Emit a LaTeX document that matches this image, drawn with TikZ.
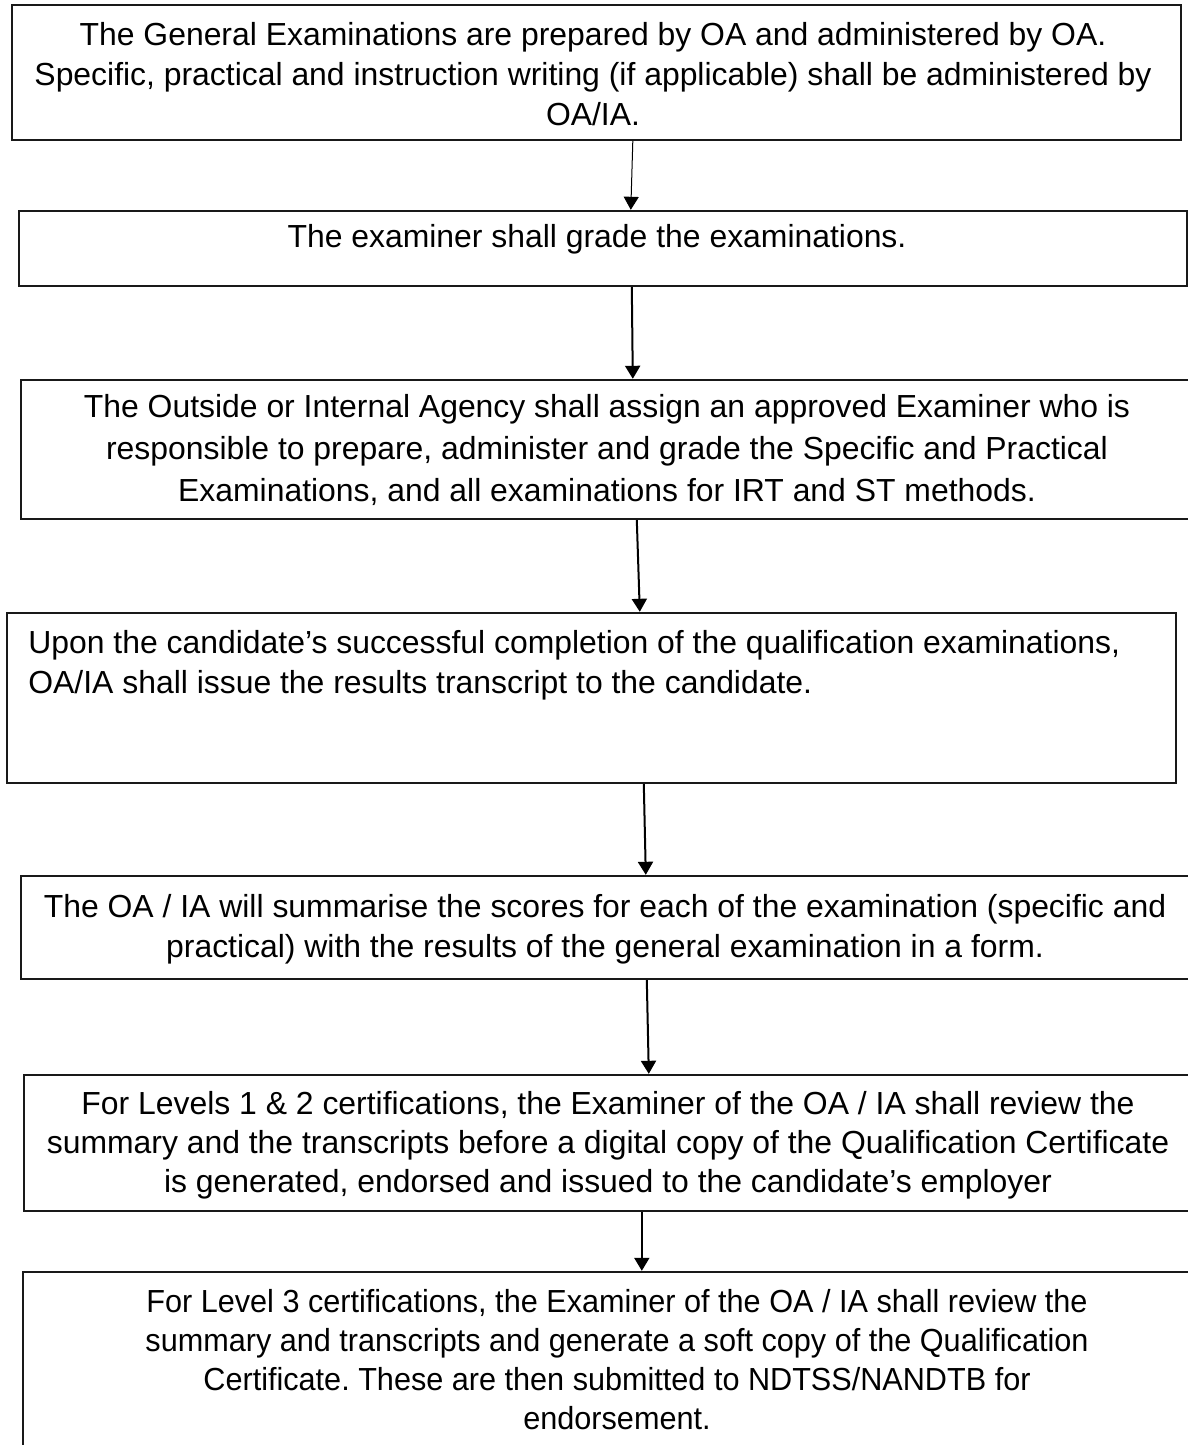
\documentclass[tikz,border=0pt]{standalone}
\usepackage{fontspec}
\setmainfont{Liberation Sans}
\newfontfamily\narrowfont[FakeStretch=0.96]{Liberation Sans}
\usetikzlibrary{arrows.meta,calc,fit}
\frenchspacing
\begin{document}
\begin{tikzpicture}[x=0.5pt,y=-0.5pt,
  box/.style={draw=black!90, line width=1.2pt, inner sep=0pt, rectangle},
  txt/.style={anchor=north, inner sep=0pt, align=center, font=\fontsize{15.95}{20}\selectfont},
  arr/.style={draw=black, line width=1pt, -{Triangle[length=6.5pt,width=7.5pt]}},
  thinarr/.style={draw=black, line width=0.5pt, -{Triangle[length=6.5pt,width=7.5pt]}}]
\clip (0,0) rectangle (1188,1445);
\fill[white] (0,0) rectangle (1188,1445);
% boxes
\node[box, fit={(12,5) (1181,140)}] (b1) {};
\node[box, fit={(19,211) (1187,286)}] (b2) {};
\node[box, fit={(21,380) (1215,519)}] (b3) {};
\node[box, fit={(7,613) (1176,783)}] (b4) {};
\node[box, fit={(21,876) (1215,979)}] (b5) {};
\node[box, fit={(24,1075) (1215,1211)}] (b6) {};
\node[box, fit={(23,1272) (1215,1470)}] (b7) {};
% texts
\node[txt] (t1) at (593,17) {\strut The General Examinations are prepared by OA and administered by OA.\\
Specific, practical and instruction writing (if applicable) shall be administered by\\
OA/IA.};
\node[txt] (t2) at (597,219) {\strut The examiner shall grade the examinations.};
\node[txt, font=\fontsize{15.95}{21}\selectfont] (t3) at (607,388) {\strut The Outside or Internal Agency shall assign an approved Examiner who is\\
responsible to prepare, administer and grade the Specific and Practical\\
Examinations, and all examinations for IRT and ST methods.};
\node[txt, align=left, anchor=north west] (t4) at (28,625) {\strut Upon the candidate’s successful completion of the qualification examinations,\\
OA/IA shall issue the results transcript to the candidate.};
\node[txt] (t5) at (605,889) {\strut The OA / IA will summarise the scores for each of the examination (specific and\\
practical) with the results of the general examination in a form.};
\node[txt, font=\fontsize{15.95}{19.5}\selectfont] (t6) at (608,1087) {\strut For Levels 1 \& 2 certifications, the Examiner of the OA / IA shall review the\\
summary and the transcripts before a digital copy of the Qualification Certificate\\
is generated, endorsed and issued to the candidate’s employer};
\node[txt, font=\narrowfont\fontsize{15.95}{19.5}\selectfont] (t7) at (617,1285) {\strut For Level 3 certifications, the Examiner of the OA / IA shall review the\\
summary and transcripts and generate a soft copy of the Qualification\\
Certificate. These are then submitted to NDTSS/NANDTB for\\
endorsement.};
% arrows
\draw[thinarr] ($(b1.south west)+(622,0)$) -- ($(b2.north west)+(613,0)$);
\draw[arr] ($(b2.south west)+(614,0)$) -- ($(b3.north west)+(613,0)$);
\draw[arr] ($(b3.south west)+(617,0)$) -- ($(b4.north west)+(634,0)$);
\draw[arr] ($(b4.south west)+(638,0)$) -- ($(b5.north west)+(626,0)$);
\draw[arr] ($(b5.south west)+(627,0)$) -- ($(b6.north west)+(626,0)$);
\draw[arr] ($(b6.south west)+(619,0)$) -- ($(b7.north west)+(620,0)$);
\end{tikzpicture}
\end{document}
